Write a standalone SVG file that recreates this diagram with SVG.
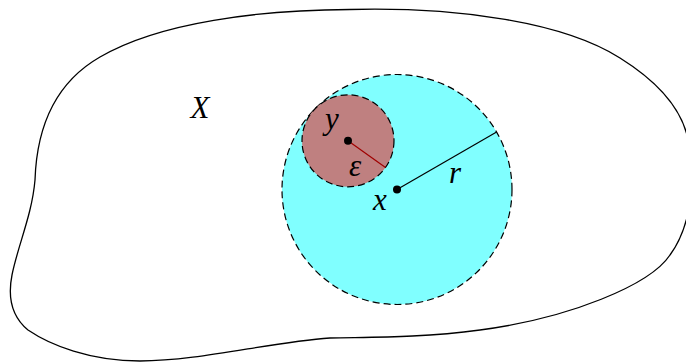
<svg xmlns="http://www.w3.org/2000/svg" width="686" height="362" viewBox="0 0 686 362">
<style>
.lbl{font-family:"Liberation Serif","DejaVu Serif",serif;font-style:italic;font-size:31px;fill:#000;text-anchor:middle}
.ball{stroke:#000;stroke-width:1.2;stroke-dasharray:7 4}
.dot{fill:#000}
</style>
<rect width="686" height="362" fill="#fff"/>
<g id="region-X">
<path d="M350,9.5 C450,7 560,20 620,58 C660,83 680,108 687,135 C697,175 692,225 670,255 C650,285 570,318 480,330 C420,338 370,337 330,338 C270,342 200,361 140,361 C90,361 50,345 28,330 C10,315 8,295 12,275 C18,245 32,215 35,180 C37,120 60,80 100,57 C160,22 260,10 350,9.5 Z" fill="none" stroke="#000" stroke-width="1.3"/>
<text class="lbl" x="200" y="118">X</text>
</g>
<g id="ball-x">
<circle class="ball" cx="397" cy="189.5" r="115" fill="#80FFFF"/>
</g>
<g id="ball-y">
<circle class="ball" cx="348" cy="140.8" r="46" fill="#BF8080"/>
</g>
<g id="connectors">
<line x1="397" y1="189.5" x2="496.6" y2="132" stroke="#000" stroke-width="1.2"/>
<line x1="348" y1="140.8" x2="385.5" y2="167.5" stroke="#A00000" stroke-width="1.2"/>
</g>
<g id="point-y">
<circle class="dot" cx="348" cy="140.8" r="4"/>
<text class="lbl" x="332" y="129">y</text>
</g>
<g id="point-x">
<circle class="dot" cx="397" cy="189.5" r="4"/>
<text class="lbl" x="380" y="210">x</text>
</g>
<g id="labels">
<text class="lbl" x="355" y="176">ε</text>
<text class="lbl" x="455" y="183">r</text>
</g>
</svg>
